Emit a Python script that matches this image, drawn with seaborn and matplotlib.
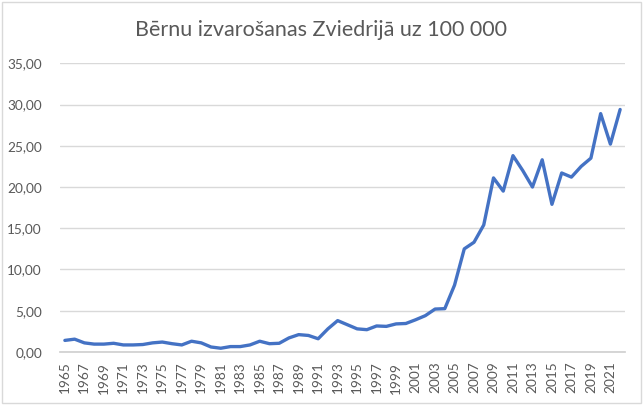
import matplotlib
matplotlib.use("Agg")
import matplotlib.pyplot as plt
from matplotlib.ticker import FuncFormatter, MultipleLocator
from matplotlib.patches import Rectangle
import seaborn as sns
import pandas as pd

# data
years = list(range(1965, 2023))
rate = [1.40, 1.55, 1.10, 0.95, 0.95, 1.05, 0.85, 0.85, 0.90, 1.10,
        1.20, 1.00, 0.85, 1.30, 1.10, 0.60, 0.45, 0.65, 0.65, 0.85,
        1.30, 1.00, 1.05, 1.70, 2.10, 2.00, 1.60, 2.80, 3.80, 3.30,
        2.80, 2.70, 3.15, 3.10, 3.40, 3.45, 3.90, 4.40, 5.20, 5.25,
        8.10, 12.50, 13.30, 15.40, 21.10, 19.50, 23.80, 22.00, 20.00, 23.30,
        17.90, 21.70, 21.20, 22.50, 23.50, 28.90, 25.20, 29.40]
title = "Bērnu izvarošanas Zviedrijā uz 100 000"

df = pd.DataFrame({"year": years, "rate": rate})

sns.set_theme(style="white")
plt.rcParams['font.family'] = ['Lato', 'DejaVu Sans']

fig = plt.figure(figsize=(6.44, 4.05), dpi=100)
ax = fig.add_axes([0.0932, 0.131, 0.8773, 0.7127])

sns.lineplot(data=df, x="year", y="rate", ax=ax, color="#4472C4", linewidth=2.4)

ax.set_xlim(1964.5, 2022.5)
ax.set_ylim(0, 35)
ax.yaxis.set_major_locator(MultipleLocator(5))
ax.yaxis.set_major_formatter(FuncFormatter(lambda v, p: f"{v:.2f}".replace(".", ",")))
ax.set_xticks(years[::2])
ax.set_xticklabels([str(y) for y in years[::2]], rotation=90)
ax.grid(axis="y", color="#d9d9d9", linewidth=1)
ax.set_axisbelow(True)
for s in ["top", "right", "left"]:
    ax.spines[s].set_visible(False)
ax.spines["bottom"].set_color("#d0d0d0")
ax.tick_params(axis="both", length=0, labelsize=9.8, colors="#595959")
ax.tick_params(axis="y", pad=13)
ax.tick_params(axis="x", pad=7)
ax.set_xlabel("")
ax.set_ylabel("")

fig.text(0.499, 0.925, title, ha="center", va="center", fontsize=15.5, color="#595959")

fig.patches.append(Rectangle((0.003, 0.005), 0.993, 0.99, transform=fig.transFigure,
                             fill=False, edgecolor="#d9d9d9", linewidth=1))

fig.savefig("out.png", dpi=100, facecolor="white")
